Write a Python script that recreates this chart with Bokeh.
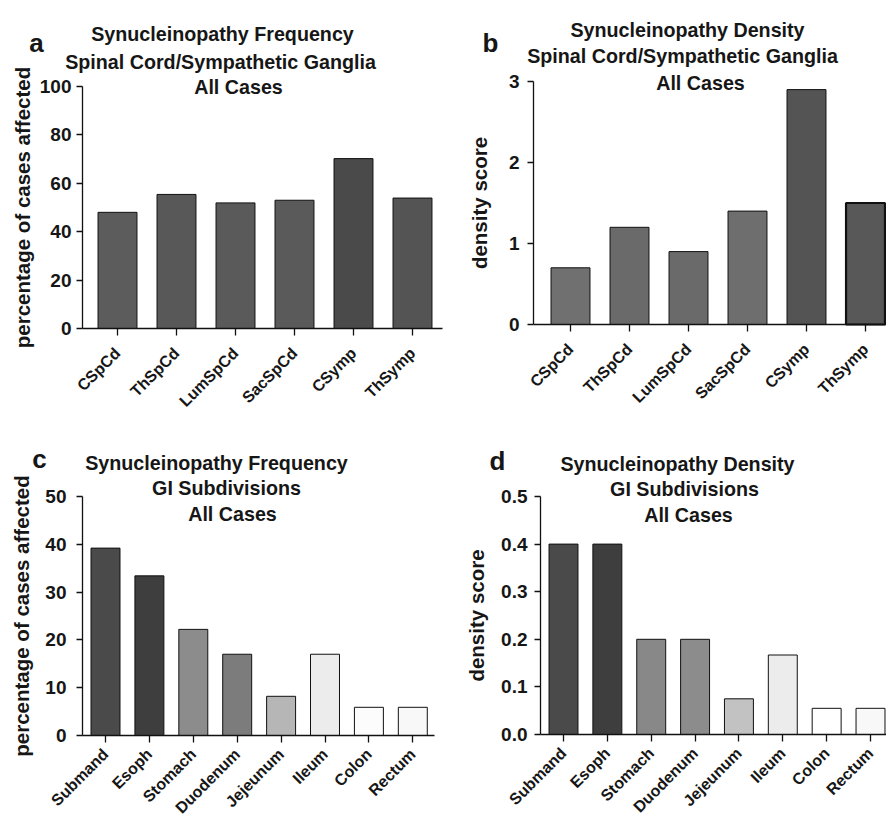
import math
from bokeh.plotting import figure
from bokeh.models import Range1d, FixedTicker, Label, ColumnDataSource, NumeralTickFormatter
from bokeh.layouts import row, column
from bokeh.embed import file_html
from bokeh.resources import INLINE

# ---------------- data ----------------
sc_categories = ["CSpCd", "ThSpCd", "LumSpCd", "SacSpCd", "CSymp", "ThSymp"]
sc_frequency = [48.0, 55.4, 51.9, 53.0, 70.2, 53.9]
sc_density = [0.7, 1.2, 0.9, 1.4, 2.9, 1.5]

gi_categories = ["Submand", "Esoph", "Stomach", "Duodenum", "Jejeunum", "Ileum", "Colon", "Rectum"]
gi_frequency = [39.2, 33.4, 22.2, 17.0, 8.2, 17.0, 5.9, 5.9]
gi_density = [0.40, 0.40, 0.20, 0.20, 0.075, 0.167, 0.055, 0.055]

ticks_a = [0, 20, 40, 60, 80, 100]
ticks_b = [0, 1, 2, 3]
ticks_c = [0, 10, 20, 30, 40, 50]
ticks_d = [0.0, 0.1, 0.2, 0.3, 0.4, 0.5]

# ---------------- styles ----------------
colors_a = ["#5c5c5c", "#585858", "#5a5a5a", "#5a5a5a", "#4a4a4a", "#545454"]
colors_b = ["#707070", "#6a6a6a", "#6a6a6a", "#6e6e6e", "#545454", "#585858"]
outline_b = [1, 1, 1, 1, 1, 2.2]
colors_c = ["#4a4a4a", "#3e3e3e", "#8c8c8c", "#7c7c7c", "#b6b6b6", "#ececec", "#fcfcfc", "#f8f8f8"]
colors_d = ["#4a4a4a", "#3e3e3e", "#888888", "#8c8c8c", "#c2c2c2", "#ececec", "#ffffff", "#f8f8f8"]

FONT = "Liberation Sans"
TXT = "#161616"
FIG_W = 443
TOP_H, BOT_H = 414, 406


def panel(categories, values, colors, widths, origin, fig_h, geom, ymax, yticks, ylabel, yfmt,
          tick_standoff, label_standoff, xl_standoff, titles, letter):
    # geom: page-pixel layout (layout only, not data)
    ox, oy = origin
    axis_px, right_px, cat0_px, step_px, y0_px, ytop_px = geom
    axis_px -= ox
    right_px -= ox
    cat0_px -= ox
    y0_px -= oy
    ytop_px -= oy
    ppu_y = (y0_px - ytop_px) / ymax
    x_start = -cat0_px / step_px
    x_end = (FIG_W - cat0_px) / step_px
    y_start = -(fig_h - y0_px) / ppu_y
    y_end = ymax + ytop_px / ppu_y
    x_axis_loc = (axis_px - cat0_px) / step_px
    x_axis_end = (right_px - cat0_px) / step_px

    p = figure(width=FIG_W, height=fig_h, output_backend="svg", toolbar_location=None,
               x_range=Range1d(x_start, x_end), y_range=Range1d(y_start, y_end),
               min_border=0, min_border_left=0, min_border_right=0,
               min_border_top=0, min_border_bottom=0, title=None)
    p.outline_line_color = None
    p.grid.visible = False
    p.background_fill_color = "white"
    p.border_fill_color = "white"
    idx = list(range(len(categories)))
    src = ColumnDataSource(dict(x=idx, top=values, color=colors, lw=widths))
    p.vbar(x="x", top="top", bottom=0, width=0.66, source=src,
           fill_color="color", line_color="#111111", line_width="lw")

    xa = p.xaxis[0]
    xa.fixed_location = 0
    xa.bounds = (x_axis_loc, x_axis_end)
    xa.ticker = FixedTicker(ticks=idx)
    xa.major_label_overrides = {i: c for i, c in enumerate(categories)}
    xa.major_label_orientation = math.pi / 4
    xa.major_tick_out = 7
    xa.major_tick_in = 0
    xa.minor_tick_out = 0
    xa.minor_tick_in = 0
    xa.major_label_standoff = xl_standoff
    xa.major_label_text_font = FONT
    xa.major_label_text_font_style = "bold"
    xa.major_label_text_font_size = "16px"
    xa.major_label_text_color = TXT
    xa.axis_line_color = "#111111"
    xa.axis_line_width = 1.3
    xa.major_tick_line_color = "#111111"
    xa.major_tick_line_width = 1.3

    ya = p.yaxis[0]
    ya.fixed_location = x_axis_loc
    ya.bounds = (0, ymax)
    ya.ticker = FixedTicker(ticks=yticks)
    if yfmt:
        ya.formatter = NumeralTickFormatter(format=yfmt)
    ya.major_tick_out = 6
    ya.major_tick_in = 0
    ya.minor_tick_out = 0
    ya.minor_tick_in = 0
    ya.major_label_standoff = tick_standoff
    ya.major_label_text_font = FONT
    ya.major_label_text_font_style = "bold"
    ya.major_label_text_font_size = "19px"
    ya.major_label_text_color = TXT
    ya.axis_label = ylabel
    ya.axis_label_standoff = label_standoff
    ya.axis_label_text_font = FONT
    ya.axis_label_text_font_style = "bold"
    ya.axis_label_text_font_size = "20.5px"
    ya.axis_label_text_color = TXT
    ya.axis_line_color = "#111111"
    ya.axis_line_width = 1.3
    ya.major_tick_line_color = "#111111"
    ya.major_tick_line_width = 1.3

    for (text, tx, ty) in titles:
        p.add_layout(Label(x=tx - ox, y=fig_h - (ty - oy), x_units="screen", y_units="screen",
                           text=text, text_align="center", text_baseline="alphabetic",
                           text_font=FONT, text_font_style="bold",
                           text_font_size="19.7px", text_color=TXT))
    lx, ly = letter[1], letter[2]
    p.add_layout(Label(x=lx - ox, y=fig_h - (ly - oy), x_units="screen", y_units="screen",
                       text=letter[0], text_align="center", text_baseline="alphabetic",
                       text_font=FONT, text_font_style="bold",
                       text_font_size="26px", text_color=TXT))
    return p


pa = panel(sc_categories, sc_frequency, colors_a, [1] * 6, (0, 0), TOP_H,
           (82, 442, 117, 59, 328, 86), 100, ticks_a, "percentage of cases affected", None, 5, 3, 15,
           [("Synucleinopathy Frequency", 222, 33),
            ("Spinal Cord/Sympathetic Ganglia", 220, 61),
            ("All Cases", 238, 86)], ("a", 36, 42))

pb = panel(sc_categories, sc_density, colors_b, outline_b, (443, 0), TOP_H,
           (533, 886, 570, 59, 324, 81), 3, ticks_b, "density score", None, 8, 15, 15,
           [("Synucleinopathy Density", 687, 29),
            ("Spinal Cord/Sympathetic Ganglia", 682, 55),
            ("All Cases", 700, 82)], ("b", 490, 42))

pc = panel(gi_categories, gi_frequency, colors_c, [1] * 8, (0, TOP_H), BOT_H,
           (82, 434, 105, 43.9, 735, 496), 50, ticks_c, "percentage of cases affected", None, 10, 9, 9,
           [("Synucleinopathy Frequency", 216, 462),
            ("GI Subdivisions", 226, 487),
            ("All Cases", 232, 513)], ("c", 39, 458))

pd_ = panel(gi_categories, gi_density, colors_d, [1] * 8, (443, TOP_H), BOT_H,
            (540, 886, 563, 43.86, 734, 496), 0.5, ticks_d, "density score", "0.0", 7, 10, 9,
            [("Synucleinopathy Density", 677, 463),
             ("GI Subdivisions", 684, 488),
             ("All Cases", 688, 514)], ("d", 497, 460))

layout = column(row(pa, pb), row(pc, pd_))

open("out.html", "w").write(file_html(layout, INLINE))
